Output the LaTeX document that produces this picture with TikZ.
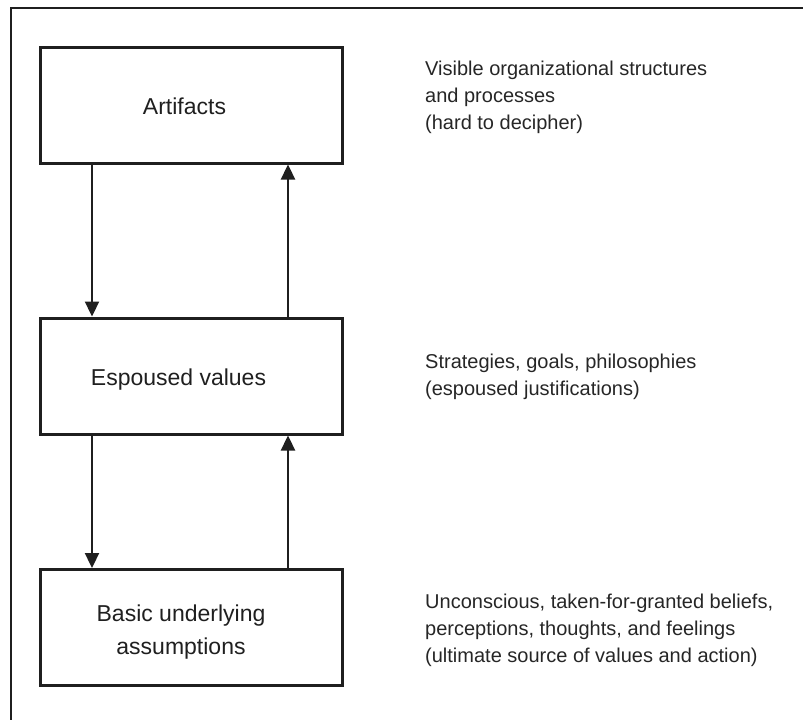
\documentclass[tikz,border=0pt]{standalone}
\usepackage{fontspec}
\setmainfont{Liberation Sans}
\usetikzlibrary{arrows.meta}
\begin{document}
\begin{tikzpicture}[x=1pt,y=-1pt,
  frame/.style={line width=2.8pt,color=black!88},
  level/.style={draw=black!88,line width=3pt,rectangle,inner sep=0pt,
    minimum width=302pt,minimum height=116pt},
  lbl/.style={font=\fontsize{23}{33}\selectfont,align=center,text=black!88,inner sep=0pt},
  note/.style={font=\fontsize{20}{26.8}\selectfont,align=left,anchor=base west,
    text=black!85,inner sep=0pt},
  link/.style={line width=2.3pt,color=black!88,
    -{Triangle[length=15pt,width=14pt]}}]
  \useasboundingbox (0,0) rectangle (803,720);
  % outer frame, open to the right and bottom
  \draw[frame] (11,722) -- (11,8) -- (805,8);
  % the three levels
  \node[level] (art) at (191,105) {};
  \node[level] (esp) at (191,376) {};
  \node[level] (bas) at (191,627.5) {};
  % labels: a multi-line node's base is its last line
  \node[lbl,anchor=base] (artL) at (184.5,114.5) {Artifacts};
  \node[lbl,anchor=base] (espL) at (178.5,385) {Espoused values};
  \node[lbl,anchor=base] (basL) at (181,654) {Basic underlying\\assumptions};
  % connector columns
  \coordinate (xL) at (92,0);
  \coordinate (xR) at (288,0);
  \draw[link] (art.south -| xL) -- (esp.north -| xL);
  \draw[link] (esp.north -| xR) -- (art.south -| xR);
  \draw[link] (esp.south -| xL) -- (bas.north -| xL);
  \draw[link] (bas.north -| xR) -- (esp.south -| xR);
  % descriptions
  \node[note] (artN) at (425,129.5) {Visible organizational structures\\and processes\\(hard to decipher)};
  \node[note] (espN) at (425,395) {Strategies, goals, philosophies\\(espoused justifications)};
  \node[note] (basN) at (425,662) {Unconscious, taken-for-granted beliefs,\\perceptions, thoughts, and feelings\\(ultimate source of values and action)};
\end{tikzpicture}
\end{document}
